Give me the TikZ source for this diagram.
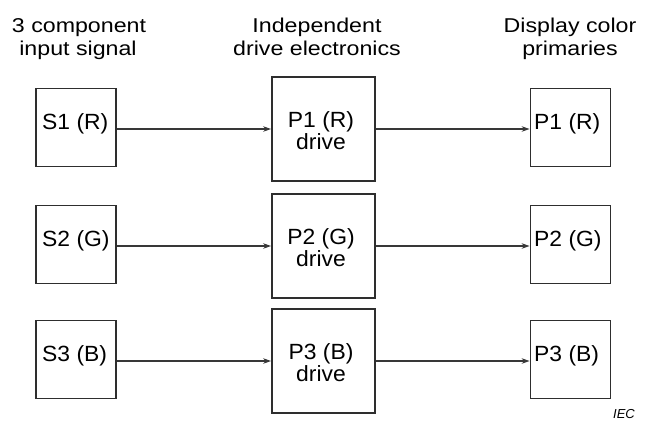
\documentclass[tikz,border=0pt]{standalone}
\usepackage{fontspec}
\setmainfont{Liberation Sans}
\newfontfamily\headfont[FakeStretch=1.16]{Liberation Sans}
\newfontfamily\boxfont[FakeStretch=1.04]{Liberation Sans}
\usetikzlibrary{arrows.meta}
\tikzset{
  blk/.style={draw=black!82, line width=1.8pt, inner sep=0pt, fill=white},
  sbox/.style={blk, minimum width=80pt, minimum height=78pt},
  dbox/.style={blk, minimum width=103pt, minimum height=104pt},
  lbl/.style={inner sep=0pt, font=\boxfont\fontsize{22}{22}\selectfont},
  head/.style={inner sep=0pt, anchor=base, font=\headfont\fontsize{20}{23}\selectfont},
  arr/.style={draw=black!78, line width=1.4pt, -{Stealth[length=8pt,width=5.5pt]}},
}
\begin{document}
\begin{tikzpicture}[x=1pt,y=-1pt]
\useasboundingbox (0,0) rectangle (647,424);
% headings
\node[head] (h1a) at (79,32) {3 component};
\node[head] (h1b) at (78,55) {input signal};
\node[head] (h2a) at (317,32) {Independent};
\node[head] (h2b) at (317,55) {drive electronics};
\node[head] (h3a) at (570,32) {Display color};
\node[head] (h3b) at (570,55) {primaries};
% rows
\foreach \i/\c/\ay in {1/R/129, 2/G/246, 3/B/361}{
  \coordinate (r\i) at (0,\ay);
  \node[sbox] (s\i) at (76,\ay-1.5) {};
  \node[dbox] (d\i) at (323.5,\ay) {};
  \node[sbox] (p\i) at (570.5,\ay-1.5) {};
  \node[lbl, anchor=base west] (sl\i) at (42,\ay+0.5) {S\i\ (\c)};
  \node[lbl, anchor=base] (dla\i) at (321,\ay-2) {P\i\ (\c)};
  \node[lbl, anchor=base] (dlb\i) at (321,\ay+20) {drive};
  \node[lbl, anchor=base west] (pl\i) at (534,\ay+0.5) {P\i\ (\c)};
  \draw[arr] (s\i.east |- r\i) -- (d\i.west |- r\i);
  \draw[arr] (d\i.east |- r\i) -- (p\i.west |- r\i);
}
\node[inner sep=0pt, anchor=base, font=\itshape\fontsize{13}{13}\selectfont] (iec) at (624,418) {IEC};
\end{tikzpicture}
\end{document}
